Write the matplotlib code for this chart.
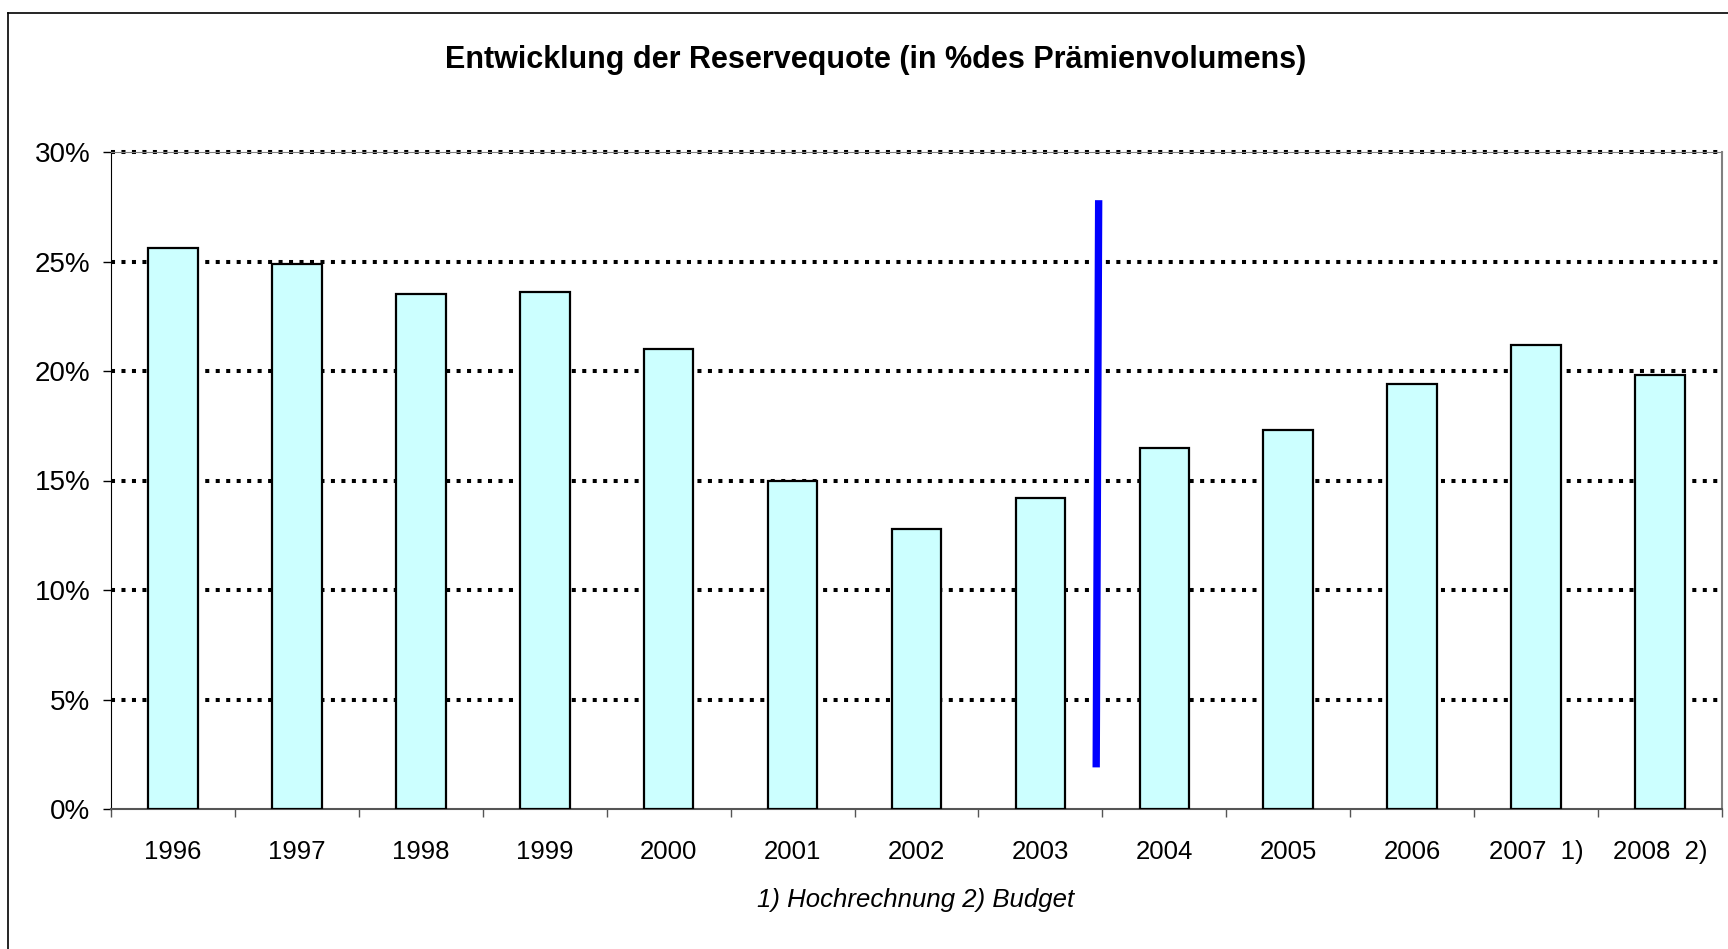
import numpy as np
import matplotlib
matplotlib.use('Agg')
import matplotlib.pyplot as plt
from matplotlib.lines import Line2D

plt.rcParams['font.family'] = ['Liberation Sans', 'DejaVu Sans']

years = ['1996', '1997', '1998', '1999', '2000', '2001', '2002',
         '2003', '2004', '2005', '2006', '2007  1)', '2008  2)']
quote = [25.6, 24.9, 23.5, 23.6, 21.0, 15.0, 12.8, 14.2, 16.5, 17.3, 19.4, 21.2, 19.8]
y_ticks = [0, 5, 10, 15, 20, 25, 30]
# blue separator between 2003 and 2004 (x in category units, y in %)
sep_x = [7.47, 7.45]
sep_y = [27.8, 1.9]

fig = plt.figure(figsize=(17.28, 9.49), dpi=100)
ax = fig.add_axes([111/1728, 1 - 809/949, (1722-111)/1728, (809-152)/949])

x = np.arange(len(years))
ax.bar(x, quote, width=0.4, color='#CCFFFF', edgecolor='black', linewidth=1.6, zorder=3)

for v in y_ticks[1:]:
    ax.axhline(v, color='black', linewidth=2.9, linestyle=(0, (1.0, 1.6)), zorder=2.5, clip_on=False)

ax.plot(sep_x, sep_y, color='#0000FF', linewidth=5.3, solid_capstyle='butt', zorder=4)

ax.set_xlim(-0.5, len(years) - 0.5)
ax.set_ylim(0, 30)
ax.set_yticks(y_ticks)
ax.set_yticklabels([f'{v}%' for v in y_ticks], fontsize=20)
ax.tick_params(axis='y', direction='out', length=6, width=1, pad=9)

ax.set_xticks(np.arange(len(years) + 1) - 0.5)
ax.set_xticklabels([])
ax.tick_params(axis='x', which='major', direction='out', length=6, width=1, color='#555555')
ax.set_xticks(x, minor=True)
ax.set_xticklabels(years, minor=True, fontsize=18.5)
ax.tick_params(axis='x', which='minor', length=0, pad=22)

ax.spines['left'].set_color('black')
ax.spines['bottom'].set_color('#555555')
ax.spines['bottom'].set_linewidth(1.5)
ax.spines['top'].set_color('#808080')
ax.spines['right'].set_color('#808080')
ax.spines['right'].set_linewidth(1.5)

fig.text(876/1728, 1 - 60/949, 'Entwicklung der Reservequote (in %des Prämienvolumens)',
         ha='center', va='center', fontsize=22, fontweight='bold')
fig.text(916/1728, 1 - 900/949, '1) Hochrechnung 2) Budget',
         ha='center', va='center', fontsize=18.5, style='italic')

# outer chart frame (left and top edges visible)
fig.add_artist(Line2D([8/1728, 8/1728], [0, 1 - 13/949], color='black', linewidth=1.2))
fig.add_artist(Line2D([8/1728, 1], [1 - 13/949, 1 - 13/949], color='black', linewidth=1.2))

fig.savefig('out.png', dpi=100)
